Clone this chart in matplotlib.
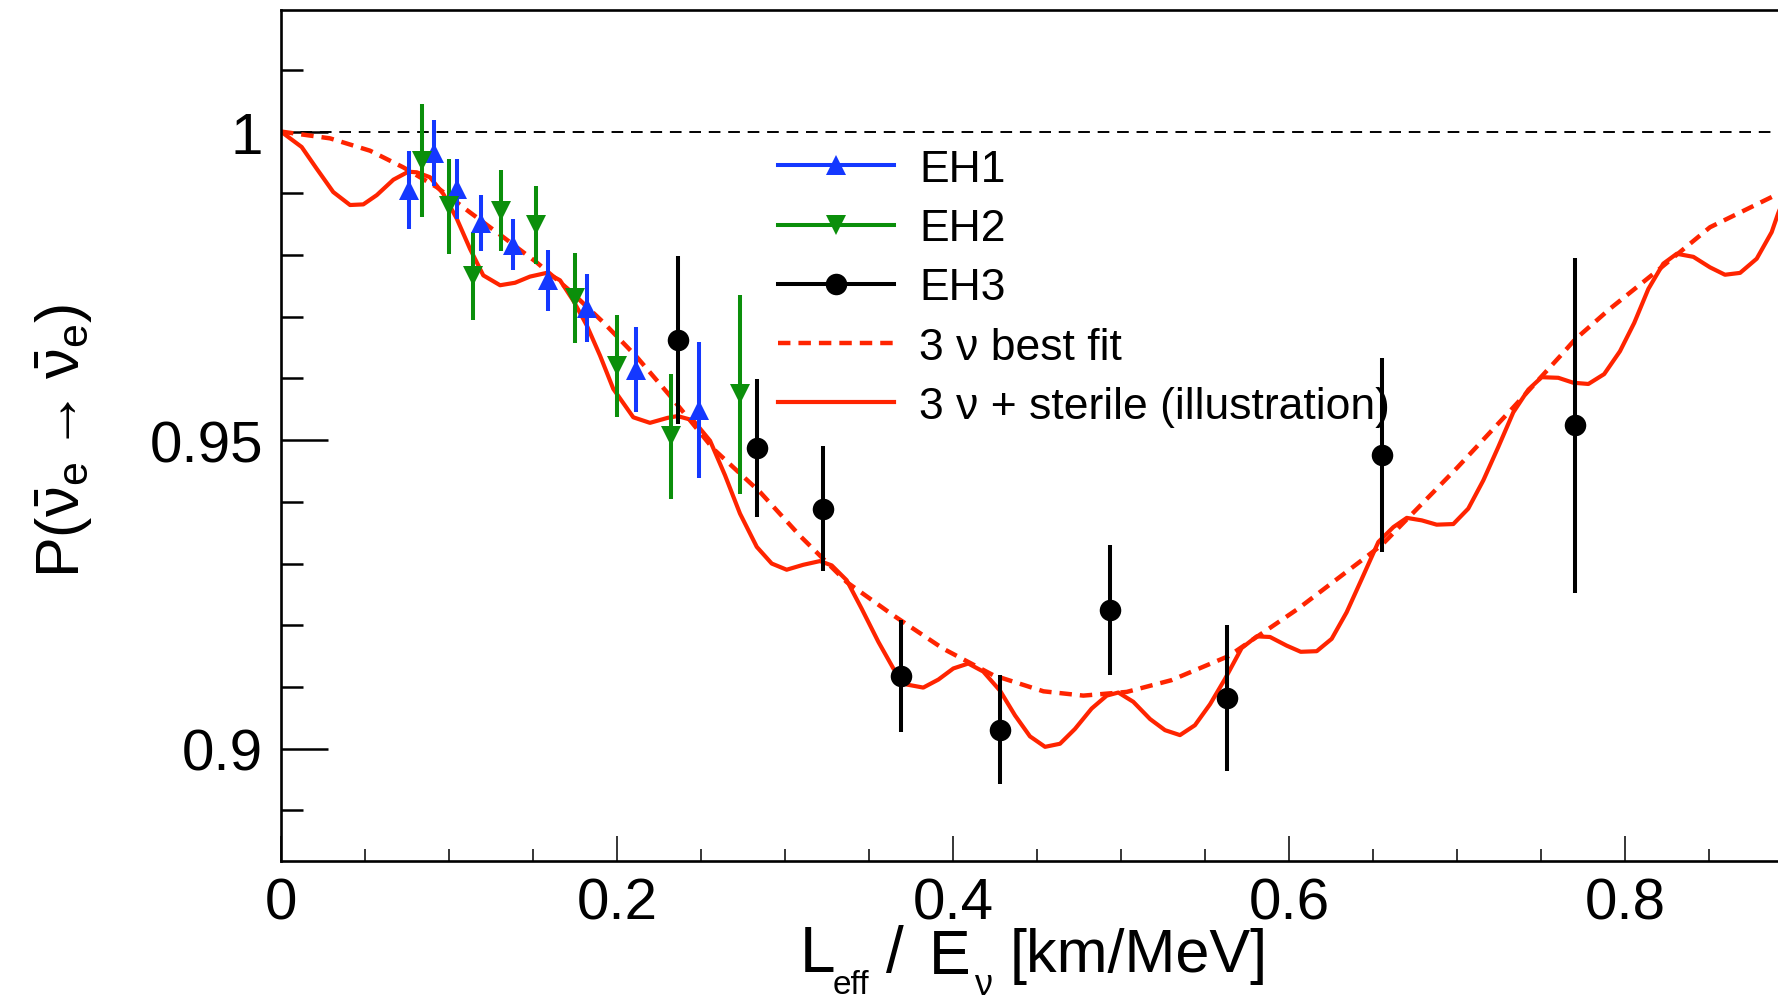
import matplotlib
matplotlib.use("Agg")
import matplotlib.pyplot as plt
from matplotlib.lines import Line2D
from matplotlib.ticker import MultipleLocator, FuncFormatter

plt.rcParams['font.family'] = ['Liberation Sans', 'DejaVu Sans']
plt.rcParams['mathtext.fontset'] = 'custom'
plt.rcParams['mathtext.rm'] = 'Liberation Sans'
plt.rcParams['mathtext.it'] = 'Liberation Sans:italic'

# ---------------- data ----------------
eh1_x = [0.0764, 0.0913, 0.1046, 0.1189, 0.1383, 0.1591, 0.1820, 0.2111, 0.2488]
eh1_y = [0.9905, 0.9965, 0.9907, 0.9852, 0.9817, 0.9759, 0.9714, 0.9614, 0.9549]
eh1_e = [0.0063, 0.0053, 0.0049, 0.0045, 0.0042, 0.0049, 0.0055, 0.0069, 0.0110]

eh2_x = [0.0837, 0.1002, 0.1145, 0.1307, 0.1516, 0.1750, 0.1998, 0.2320, 0.2732]
eh2_y = [0.9953, 0.9879, 0.9766, 0.9872, 0.9848, 0.9730, 0.9620, 0.9506, 0.9574]
eh2_e = [0.0092, 0.0077, 0.0071, 0.0065, 0.0063, 0.0073, 0.0082, 0.0101, 0.0161]

eh3_x = [0.2365, 0.2835, 0.3228, 0.3688, 0.4280, 0.4935, 0.5633, 0.6552, 0.7702]
eh3_y = [0.9662, 0.9487, 0.9389, 0.9118, 0.9031, 0.9225, 0.9082, 0.9476, 0.9524]
eh3_e = [0.0136, 0.0112, 0.0101, 0.0091, 0.0088, 0.0105, 0.0118, 0.0157, 0.0271]

best_x = [0.0000, 0.0292, 0.0530, 0.0728, 0.0927, 0.1125, 0.1323, 0.1522, 0.1720,
          0.1918, 0.2117, 0.2315, 0.2573, 0.2851, 0.3089, 0.3367, 0.3645, 0.3942,
          0.4240, 0.4538, 0.4776, 0.5034, 0.5300, 0.5640, 0.6050, 0.6552, 0.7000,
          0.7335, 0.7627, 0.7702, 0.7911, 0.8208, 0.8506, 0.8911, 0.9000]
best_y = [1.0000, 0.9989, 0.9969, 0.9942, 0.9910, 0.9869, 0.9829, 0.9788, 0.9742,
          0.9691, 0.9635, 0.9572, 0.9486, 0.9416, 0.9345, 0.9270, 0.9216, 0.9162,
          0.9119, 0.9093, 0.9086, 0.9092, 0.9111, 0.9150, 0.9226, 0.9330, 0.9455,
          0.9553, 0.9640, 0.9663, 0.9713, 0.9778, 0.9845, 0.9899, 0.9910]

ster_x = [0.0000, 0.0123, 0.0212, 0.0311, 0.0411, 0.0490, 0.0570, 0.0669, 0.0758,
          0.0808, 0.0887, 0.0966, 0.1046, 0.1125, 0.1204, 0.1304, 0.1393, 0.1482,
          0.1581, 0.1661, 0.1740, 0.1820, 0.1899, 0.1978, 0.2097, 0.2196, 0.2300,
          0.2360, 0.2454, 0.2554, 0.2643, 0.2732, 0.2832, 0.2921, 0.3010, 0.3109,
          0.3208, 0.3278, 0.3367, 0.3456, 0.3556, 0.3645, 0.3724, 0.3823, 0.3913,
          0.4002, 0.4091, 0.4180, 0.4280, 0.4369, 0.4458, 0.4548, 0.4637, 0.4726,
          0.4825, 0.4915, 0.4984, 0.5073, 0.5173, 0.5262, 0.5351, 0.5440, 0.5530,
          0.5619, 0.5718, 0.5808, 0.5887, 0.5986, 0.6070, 0.6165, 0.6254, 0.6343,
          0.6433, 0.6532, 0.6621, 0.6701, 0.6790, 0.6879, 0.6978, 0.7067, 0.7157,
          0.7246, 0.7335, 0.7425, 0.7504, 0.7603, 0.7692, 0.7782, 0.7876, 0.7970,
          0.8055, 0.8139, 0.8228, 0.8308, 0.8407, 0.8506, 0.8595, 0.8685, 0.8784,
          0.8873, 0.8911, 0.8960]
ster_y = [1.0000, 0.9975, 0.9940, 0.9902, 0.9881, 0.9882, 0.9897, 0.9922, 0.9935,
          0.9934, 0.9926, 0.9899, 0.9859, 0.9810, 0.9767, 0.9751, 0.9755, 0.9765,
          0.9771, 0.9759, 0.9726, 0.9686, 0.9637, 0.9583, 0.9537, 0.9528, 0.9536,
          0.9539, 0.9532, 0.9499, 0.9443, 0.9381, 0.9327, 0.9300, 0.9290, 0.9298,
          0.9304, 0.9297, 0.9273, 0.9227, 0.9173, 0.9130, 0.9104, 0.9099, 0.9112,
          0.9130, 0.9138, 0.9125, 0.9094, 0.9054, 0.9020, 0.9003, 0.9008, 0.9032,
          0.9065, 0.9086, 0.9091, 0.9076, 0.9048, 0.9030, 0.9022, 0.9038, 0.9072,
          0.9113, 0.9163, 0.9182, 0.9181, 0.9167, 0.9157, 0.9158, 0.9178, 0.9221,
          0.9275, 0.9335, 0.9359, 0.9374, 0.9370, 0.9363, 0.9364, 0.9389, 0.9435,
          0.9489, 0.9545, 0.9582, 0.9602, 0.9601, 0.9593, 0.9591, 0.9607, 0.9644,
          0.9690, 0.9745, 0.9786, 0.9802, 0.9797, 0.9780, 0.9768, 0.9771, 0.9794,
          0.9837, 0.9867, 0.9900]

x_ticks = [0, 0.2, 0.4, 0.6, 0.8]
y_ticks = [0.9, 0.95, 1.0]
legend_labels = ["EH1", "EH2", "EH3", "3 \u03bd best fit", "3 \u03bd + sterile (illustration)"]

# ---------------- style ----------------
W, H = 1778, 1004
RED = '#ff2400'
BLUE = '#1438ff'
GREEN = '#0b8f0b'

fig = plt.figure(figsize=(W / 100, H / 100), dpi=100)
ax = fig.add_axes([281 / W, 1 - 862 / H, 1512 / W, 851 / H])

ax.axhline(1.0, color='black', lw=1.4, dashes=(6, 4), zorder=1)
ax.plot(best_x, best_y, color=RED, lw=3.2, dashes=(2.8, 1.8), zorder=2,
        solid_joinstyle='round')
ax.plot(ster_x, ster_y, color=RED, lw=3.0, zorder=2, solid_joinstyle='round')

ms = 15
ax.errorbar(eh1_x, eh1_y, yerr=eh1_e, fmt='^', color=BLUE, ms=ms, mew=0,
            elinewidth=2.9, capsize=0, zorder=4)
ax.errorbar(eh2_x, eh2_y, yerr=eh2_e, fmt='v', color=GREEN, ms=ms, mew=0,
            elinewidth=2.9, capsize=0, zorder=4)
ax.errorbar(eh3_x, eh3_y, yerr=eh3_e, fmt='o', color='black', ms=15.5, mew=0,
            elinewidth=2.9, capsize=0, zorder=4)

ax.set_xlim(0, 0.9)
ax.set_ylim(0.8818, 1.0197)

ax.xaxis.set_minor_locator(MultipleLocator(0.05))
ax.yaxis.set_minor_locator(MultipleLocator(0.01))
ax.set_xticks(x_ticks)
ax.set_yticks(y_ticks)
fmt = FuncFormatter(lambda v, p: '{:g}'.format(round(v, 4)))
ax.xaxis.set_major_formatter(fmt)
ax.yaxis.set_major_formatter(fmt)

ax.tick_params(axis='x', which='major', direction='in', length=18, width=1.1,
               labelsize=42, pad=11)
ax.tick_params(axis='x', which='minor', direction='in', length=8.6, width=1.1)
ax.tick_params(axis='y', which='major', direction='in', length=34, width=1.8,
               labelsize=42, pad=13)
ax.tick_params(axis='y', which='minor', direction='in', length=16, width=1.8)
for s in ['left', 'bottom', 'top', 'right']:
    ax.spines[s].set_linewidth(1.9)

handles = [
    Line2D([], [], color=BLUE, lw=2.9, marker='^', ms=ms, mew=0),
    Line2D([], [], color=GREEN, lw=2.9, marker='v', ms=ms, mew=0),
    Line2D([], [], color='black', lw=2.9, marker='o', ms=15.5, mew=0),
    Line2D([], [], color=RED, lw=3.2, dashes=(2.8, 1.8)),
    Line2D([], [], color=RED, lw=3.0),
]
leg = ax.legend(handles, legend_labels, loc='upper left',
                bbox_to_anchor=(778 / W, 1 - 150 / H), bbox_transform=fig.transFigure,
                frameon=False, fontsize=32, handlelength=2.62, handletextpad=0.56,
                labelspacing=0.41, borderpad=0, borderaxespad=0)
leg.set_zorder(1.5)


def ftext(xp, yp, s, **kw):
    return fig.text(xp / W, 1 - yp / H, s, **kw)


# x-axis title pieces (L_eff / E_nu [km/MeV])
ftext(800, 972, "L", fontsize=46, va='baseline', ha='left')
ftext(833, 994, "eff", fontsize=24, va='baseline', ha='left')
ftext(886, 972, "/", fontsize=46, va='baseline', ha='left')
ftext(929, 974, "E", fontsize=45, va='baseline', ha='left')
ftext(974, 995, "\u03bd", fontsize=26, va='baseline', ha='left')
ftext(1010, 972, "[km/MeV]", fontsize=44, va='baseline', ha='left')

# y-axis title
ftext(64, 441, r"P($\bar{\mathrm{\nu}}_{\mathrm{e}}\rightarrow\bar{\mathrm{\nu}}_{\mathrm{e}}$)",
      fontsize=44, rotation=90, ha='center', va='center')

fig.savefig('out.png', dpi=100)
